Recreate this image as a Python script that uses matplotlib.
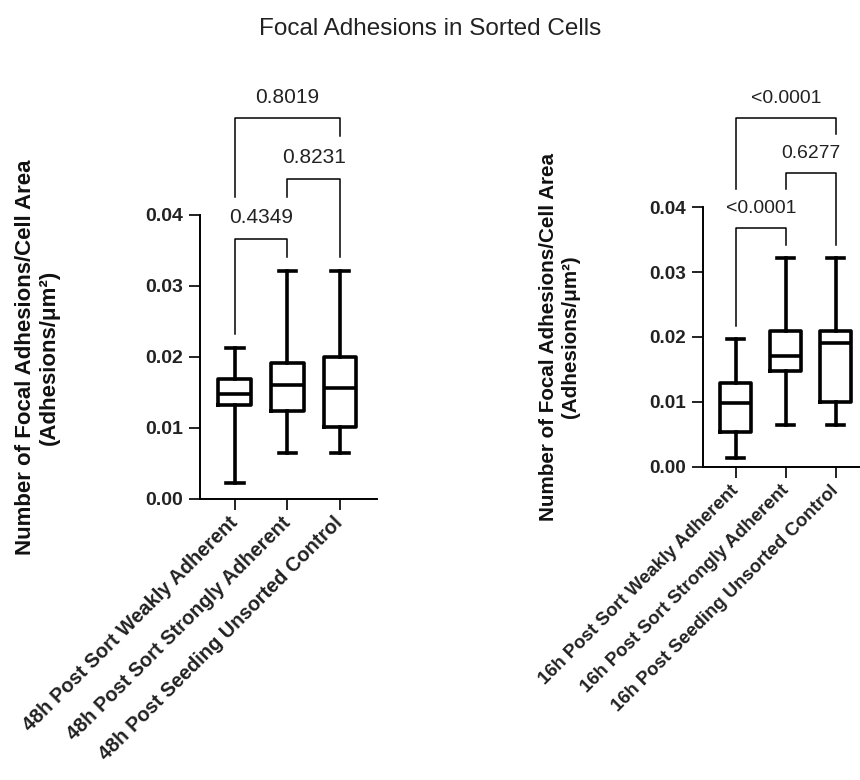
import matplotlib
matplotlib.use("Agg")
import matplotlib.pyplot as plt

plt.rcParams['font.family'] = ['Liberation Sans', 'DejaVu Sans']

# 48h sort (left panel)
groups_48 = ['48h Post Sort Weakly Adherent', '48h Post Sort Strongly Adherent',
             '48h Post Seeding Unsorted Control']
whislo_48 = [0.0022, 0.0065, 0.0065]
q1_48 = [0.0132, 0.0124, 0.0102]
med_48 = [0.0148, 0.0160, 0.0156]
q3_48 = [0.0169, 0.0191, 0.0200]
whishi_48 = [0.0212, 0.0321, 0.0321]
pvals_48 = ['0.4349', '0.8231', '0.8019']

# 16h sort (right panel)
groups_16 = ['16h Post Sort Weakly Adherent', '16h Post Sort Strongly Adherent',
             '16h Post Seeding Unsorted Control']
whislo_16 = [0.0014, 0.0064, 0.0064]
q1_16 = [0.0054, 0.0148, 0.0100]
med_16 = [0.0099, 0.0170, 0.0190]
q3_16 = [0.0129, 0.0209, 0.0209]
whishi_16 = [0.0197, 0.0322, 0.0322]
pvals_16 = ['<0.0001', '0.6277', '<0.0001']

comparisons = [(0, 1), (1, 2), (0, 2)]

fig = plt.figure(figsize=(8.6, 7.8), dpi=100)
fig.text(0.5, 0.963, 'Focal Adhesions in Sorted Cells', ha='center', va='center',
         fontsize=17.5, color='#222222')

ylabel = 'Number of Focal Adhesions/Cell Area\n(Adhesions/\u03bcm\u00b2)'


def panel(rect, names, lo, q1, med, q3, hi, pvals, label_x, k):
    # k scales the text, the right panel is drawn a bit smaller
    ax = fig.add_axes(rect)
    stats = []
    for i in range(len(names)):
        stats.append(dict(whislo=lo[i], q1=q1[i], med=med[i], q3=q3[i],
                          whishi=hi[i], fliers=[]))
    lw = 2.6
    ax.bxp(stats, positions=range(len(names)), widths=0.62, capwidths=0.34,
           showfliers=False,
           boxprops=dict(color='black', linewidth=lw),
           whiskerprops=dict(color='black', linewidth=lw),
           capprops=dict(color='black', linewidth=lw),
           medianprops=dict(color='black', linewidth=lw))

    ax.set_xlim(-0.66, 2.7)
    ax.set_ylim(0, 0.04)
    ax.set_yticks([0, 0.01, 0.02, 0.03, 0.04])
    ax.set_yticklabels(['0.00', '0.01', '0.02', '0.03', '0.04'])
    ax.set_xticks(range(len(names)))
    ax.set_xticklabels(names, rotation=45, ha='right', va='center',
                       rotation_mode='anchor')
    for s in ['top', 'right']:
        ax.spines[s].set_visible(False)
    for s in ['left', 'bottom']:
        ax.spines[s].set_linewidth(1.4)
    ax.tick_params(direction='out', length=8, width=1.4, colors='#222222', pad=4)
    ax.tick_params(axis='y', labelsize=14 * min(1, k + 0.04))
    ax.tick_params(axis='x', labelsize=14.4 * k, pad=7)
    for t in ax.get_xticklabels() + ax.get_yticklabels():
        t.set_fontweight('bold')
    ax.set_ylabel(ylabel, fontsize=16 * k, fontweight='bold', linespacing=1.2,
                  color='#111111')
    ax.yaxis.set_label_coords(label_x, 0.5)

    # significance brackets, legs stop just above whatever sits below them
    floor = [h + 0.002 for h in hi]
    for (a, b), p in zip(comparisons, pvals):
        bar = max(floor[a:b + 1]) + 0.0025
        ax.plot([a, a, b, b], [floor[a], bar, bar, floor[b]], color='black',
                lw=1.1, clip_on=False)
        ax.text((a + b) / 2, bar + 0.003, p, ha='center', va='center',
                fontsize=15 * k, color='#222222', clip_on=False)
        for g in range(a, b + 1):
            floor[g] = bar + 0.006
    return ax


panel([0.2326, 0.3603, 0.2058, 0.3641], groups_48, whislo_48, q1_48, med_48,
      q3_48, whishi_48, pvals_48, -0.79, 1.0)
panel([0.8174, 0.4013, 0.1953, 0.3333], groups_16, whislo_16, q1_16, med_16,
      q3_16, whishi_16, pvals_16, -0.73, 0.93)

fig.savefig('out.png', dpi=100)
